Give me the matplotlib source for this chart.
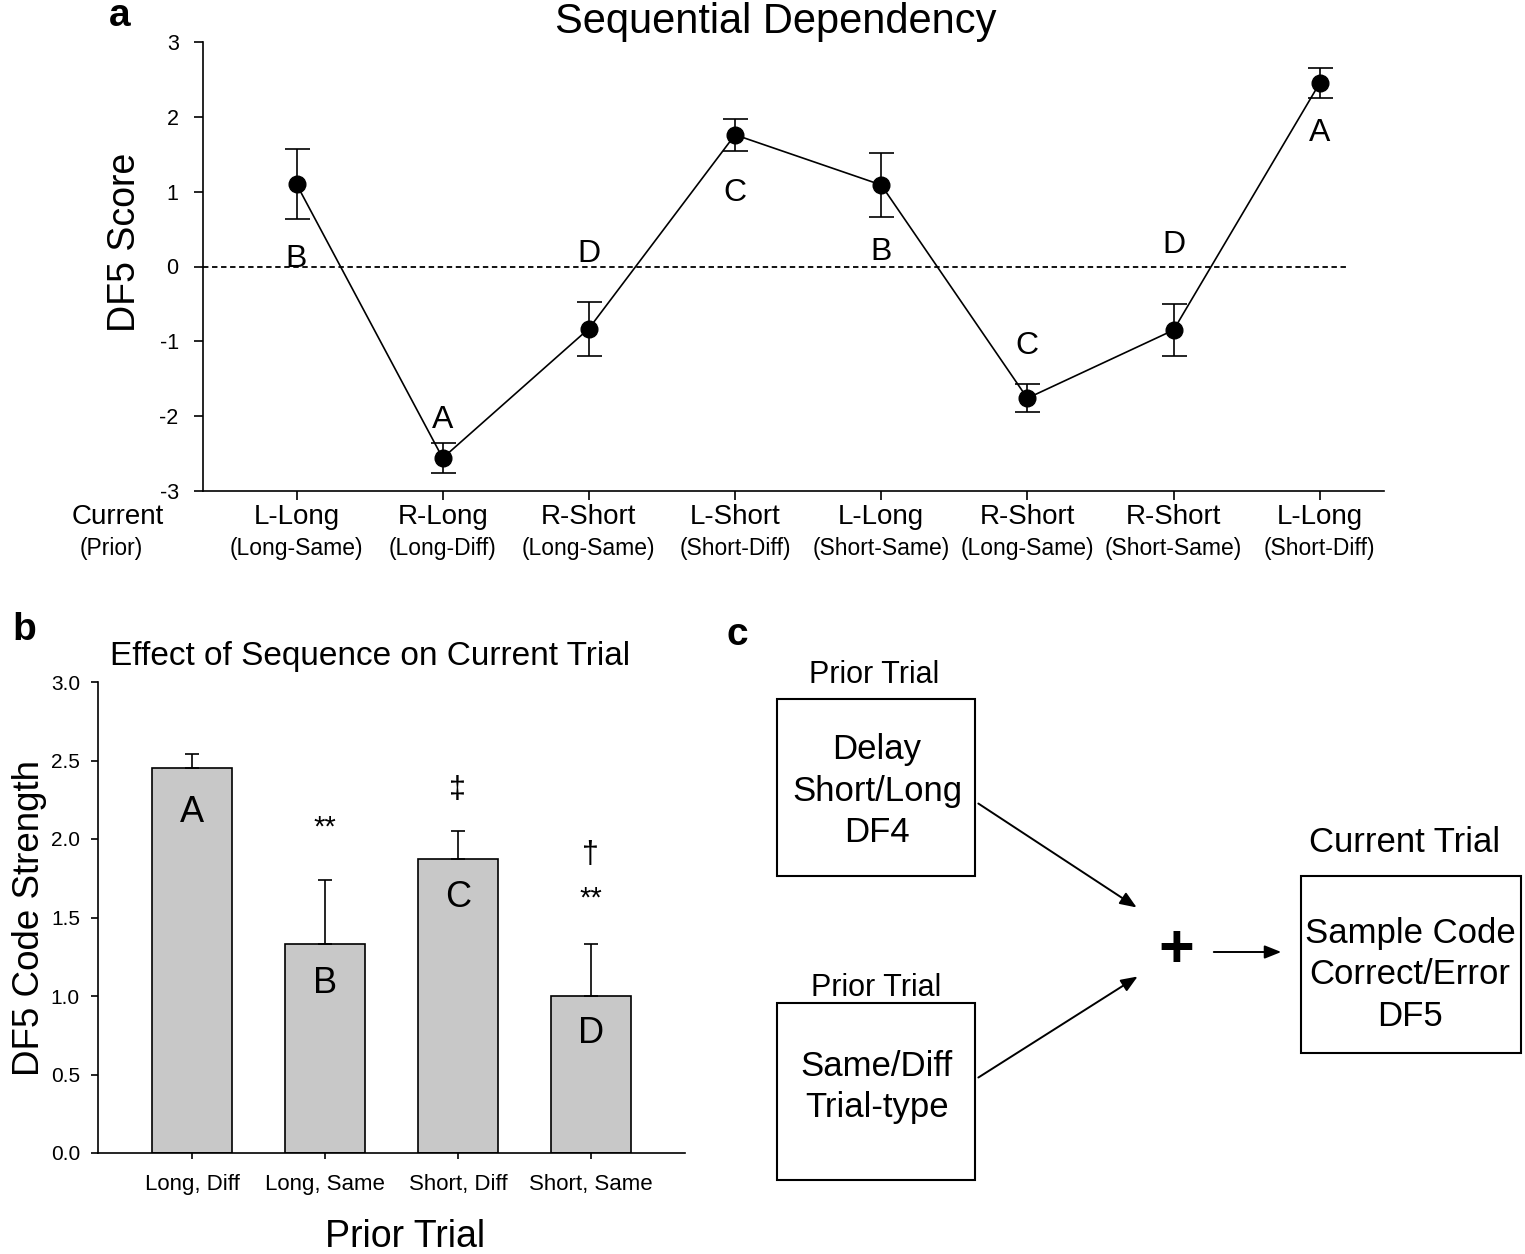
import matplotlib
matplotlib.use("Agg")
import matplotlib.pyplot as plt
from matplotlib.patches import Rectangle, FancyArrowPatch

plt.rcParams["font.family"] = ["Liberation Sans", "DejaVu Sans"]
plt.rcParams["axes.unicode_minus"] = False

# panel a: sequential dependency
a_current = ["L-Long", "R-Long", "R-Short", "L-Short", "L-Long", "R-Short", "R-Short", "L-Long"]
a_prior = ["(Long-Same)", "(Long-Diff)", "(Long-Same)", "(Short-Diff)",
           "(Short-Same)", "(Long-Same)", "(Short-Same)", "(Short-Diff)"]
a_score = [1.10, -2.56, -0.83, 1.76, 1.09, -1.76, -0.85, 2.45]
a_err = [0.47, 0.20, 0.36, 0.21, 0.43, 0.19, 0.35, 0.20]
a_letters = ["B", "A", "D", "C", "B", "C", "D", "A"]
a_letter_y = [0.10, -2.05, 0.17, 0.98, 0.19, -1.06, 0.29, 1.78]

# panel b: effect of sequence on current trial
b_prior = ["Long, Diff", "Long, Same", "Short, Diff", "Short, Same"]
b_strength = [2.45, 1.33, 1.87, 1.00]
b_err = [0.09, 0.41, 0.18, 0.33]
b_letters = ["A", "B", "C", "D"]
b_letter_y = [2.17, 1.08, 1.63, 0.76]
b_marks = [[], [("**", 2.07)], [("\u2021", 2.31)], [("\u2020", 1.90), ("**", 1.62)]]

W, H = 1525, 1254
fig = plt.figure(figsize=(W / 100, H / 100), dpi=100)


def fx(x):
    return x / W


def fy(y):
    return 1 - y / H


# ---------- panel a ----------
ax = fig.add_axes([fx(203), fy(491), fx(1384 - 203), (491 - 42) / H])
xs = list(range(1, len(a_score) + 1))
ax.axhline(0, xmin=0, xmax=(8.19 - 0.36) / (8.44 - 0.36), color="black", ls=(0, (3, 2)), lw=1.3)
ax.errorbar(xs, a_score, yerr=a_err, color="black", lw=1.2, marker="o", ms=12,
            capsize=9, elinewidth=1.2, capthick=1.2)
for x, t, ly in zip(xs, a_letters, a_letter_y):
    ax.text(x, ly, t, ha="center", va="center", fontsize=23)
ax.set_xlim(0.36, 8.44)
ax.set_ylim(-3, 3)
ax.set_yticks([-3, -2, -1, 0, 1, 2, 3])
ax.set_xticks(xs)
ax.set_xticklabels([])
ax.tick_params(axis="both", direction="out", length=6.5, width=1.2, labelsize=15.5)
ax.tick_params(axis="y", pad=11)
for s in ["top", "right"]:
    ax.spines[s].set_visible(False)
for s in ["left", "bottom"]:
    ax.spines[s].set_linewidth(1.2)
tr = ax.get_xaxis_transform()
for x, c, p in zip(xs, a_current, a_prior):
    ax.text(x, -0.058, c, transform=tr, ha="center", va="center", fontsize=20)
    ax.text(x, -0.127, p, transform=tr, ha="center", va="center", fontsize=16.5)
fig.text(fx(118), fy(517), "Current", ha="center", va="center", fontsize=20)
fig.text(fx(111), fy(548), "(Prior)", ha="center", va="center", fontsize=16.5)
fig.text(fx(125), fy(242), "DF5 Score", ha="center", va="center", rotation=90, fontsize=27)
fig.text(fx(776), fy(22), "Sequential Dependency", ha="center", va="center", fontsize=30)
fig.text(fx(120), fy(16), "a", ha="center", va="center", fontsize=28, fontweight="bold")

# ---------- panel b ----------
bx = fig.add_axes([fx(98), fy(1153), fx(685 - 98), (1153 - 682) / H])
pos = list(range(len(b_strength)))
bx.bar(pos, b_strength, width=0.6, color="#c8c8c8", edgecolor="black", lw=1.2,
       yerr=[[0] * len(b_err), b_err], error_kw=dict(ecolor="black", elinewidth=1.2,
                                                      capsize=5, capthick=1.2))
for p, t, ly in zip(pos, b_letters, b_letter_y):
    bx.text(p, ly, t, ha="center", va="center", fontsize=26)
for p, marks in zip(pos, b_marks):
    for m, my in marks:
        bx.text(p, my, m, ha="center", va="center", fontsize=21 if m == "**" else 22)
bx.set_xlim(-0.71, 3.71)
bx.set_ylim(0, 3)
bx.set_yticks([0, 0.5, 1.0, 1.5, 2.0, 2.5, 3.0])
bx.set_yticklabels(["0.0", "0.5", "1.0", "1.5", "2.0", "2.5", "3.0"])
bx.set_xticks(pos)
bx.set_xticklabels(b_prior)
bx.tick_params(axis="y", direction="out", length=5, width=1.2, labelsize=15, pad=8)
bx.tick_params(axis="x", direction="out", length=4, width=1.2, labelsize=16, pad=11)
for s in ["top", "right"]:
    bx.spines[s].set_visible(False)
for s in ["left", "bottom"]:
    bx.spines[s].set_linewidth(1.2)
fig.text(fx(405), fy(1237), "Prior Trial", ha="center", va="center", fontsize=27)
fig.text(fx(30), fy(918), "DF5 Code Strength", ha="center", va="center", rotation=90, fontsize=26.5)
fig.text(fx(370), fy(656), "Effect of Sequence on Current Trial", ha="center", va="center", fontsize=24)
fig.text(fx(24), fy(630), "b", ha="center", va="center", fontsize=28, fontweight="bold")

# ---------- panel c ----------
cx = fig.add_axes([0, 0, 1, 1], facecolor="none")
cx.set_xlim(0, W)
cx.set_ylim(H, 0)
cx.axis("off")
for (x0, y0, x1, y1) in [(777, 699, 975, 876), (777, 1003, 975, 1180), (1301, 876, 1521, 1053)]:
    cx.add_patch(Rectangle((x0, y0), x1 - x0, y1 - y0, fill=False, ec="black", lw=1.5))
cx.text(874, 675, "Prior Trial", ha="center", va="center", fontsize=22)
cx.text(876, 988, "Prior Trial", ha="center", va="center", fontsize=22)
cx.text(1405, 842, "Current Trial", ha="center", va="center", fontsize=25)
for y, t in zip([750, 792, 833], ["Delay", "Short/Long", "DF4"]):
    cx.text(877, y, t, ha="center", va="center", fontsize=25)
for y, t in zip([1067, 1108], ["Same/Diff", "Trial-type"]):
    cx.text(877, y, t, ha="center", va="center", fontsize=25)
for y, t in zip([933, 975, 1016], ["Sample Code", "Correct/Error", "DF5"]):
    cx.text(1410, y, t, ha="center", va="center", fontsize=25)
for (x0, y0, x1, y1) in [(976, 802, 1139, 909), (976, 1079, 1140, 975), (1211, 952, 1284, 952)]:
    cx.add_patch(FancyArrowPatch((x0, y0), (x1, y1), arrowstyle="-|>,head_length=10,head_width=4",
                                 color="black", lw=1.4, mutation_scale=1))
cx.text(1176, 952, "+", ha="center", va="center", fontsize=44, fontweight="bold")
fig.text(fx(737), fy(635), "c", ha="center", va="center", fontsize=28, fontweight="bold")

fig.savefig("out.png", dpi=100)
